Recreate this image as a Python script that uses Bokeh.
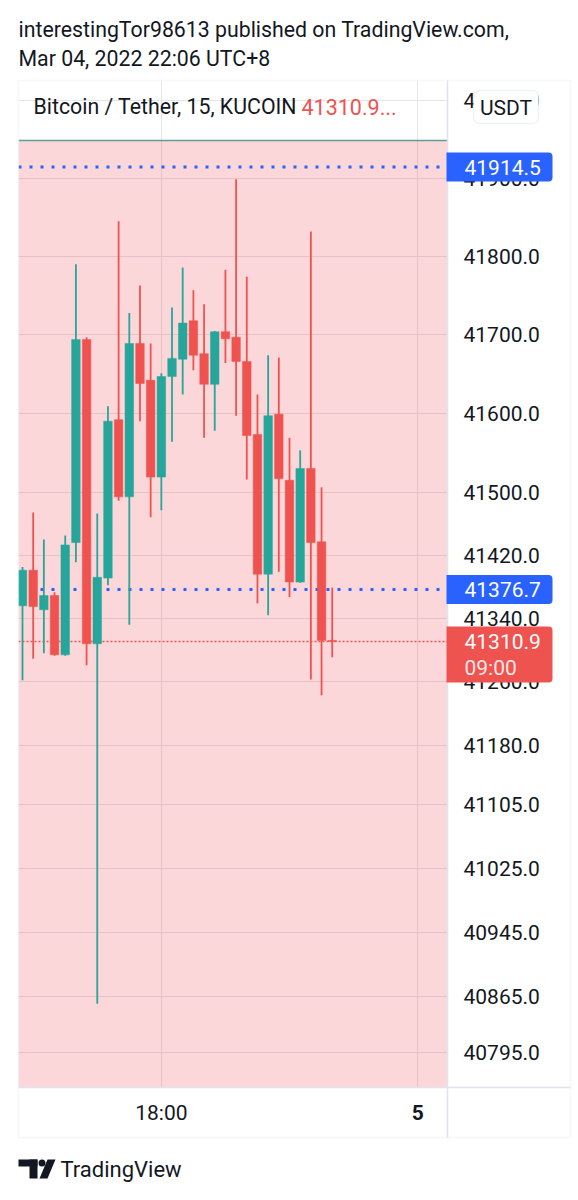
import numpy as np
from bokeh.plotting import figure
from bokeh.models import (Range1d, FixedTicker, PrintfTickFormatter, Label, BoxAnnotation,
                          PolyAnnotation, ColumnDataSource)
from bokeh.embed import file_html
from bokeh.resources import INLINE

# ---------------- data ----------------
bar_index = list(range(30))  # 15-minute bars; index 13 = 18:00, index 37 = 00:00 (day 5)
opens  = [41356, 41401, 41351, 41369, 41294, 41436, 41694, 41308, 41391, 41592,
          41494, 41689, 41642, 41519, 41647, 41669, 41718, 41676, 41637, 41704,
          41697, 41666, 41573, 41396, 41599, 41515, 41386, 41530, 41437, 41312.2]
closes = [41401, 41355, 41369, 41294, 41433, 41694, 41308, 41392, 41590, 41494,
          41689, 41638, 41519, 41647, 41670, 41715, 41674, 41637, 41704, 41695,
          41666, 41572, 41396, 41597, 41517, 41386, 41530, 41436, 41312, 41310.9]
highs  = [41405, 41474, 41440, 41373, 41445, 41790, 41697, 41473, 41609, 41845,
          41728, 41763, 41689, 41651, 41735, 41786, 41757, 41739, 41705, 41783,
          41899, 41774, 41624, 41674, 41671, 41569, 41553, 41832, 41506, 41379]
lows   = [41262, 41289, 41296, 41293, 41293, 41411, 41281, 40856, 41382, 41489,
          41332, 41590, 41468, 41477, 41564, 41624, 41655, 41569, 41578, 41664,
          41597, 41516, 41359, 41344, 41399, 41367, 41385, 41263, 41243, 41291]

price_ticks = [42000, 41900, 41800, 41700, 41600, 41500, 41420, 41340, 41260,
               41180, 41105, 41025, 40945, 40865, 40795]
time_ticks = [13, 37]
time_labels = ["18:00", "5"]
hline_levels = [41914.5, 41376.7]
hline_texts = ["41914.5", "41376.7"]
last_price = 41310.9
last_price_text = "41310.9"
countdown = "09:00"
zone_top = 41948.5

header_lines = ["interestingTor98613 published on TradingView.com,",
                "Mar 04, 2022 22:06 UTC+8"]
legend_text = "Bitcoin / Tether, 15, KUCOIN"
legend_price = "41310.9..."
currency = "USDT"
brand = "TradingView"

# ---------------- styling / layout ----------------
UP = "#26A69A"
DOWN = "#EF5350"
BLUE = "#2962FF"
TXT = "#131722"
LINE = "#E0E3EB"
FONT = "Roboto"
W, H = 578, 1200
PX_PER_E = 32708.0   # log price scale: pixels per e-fold


# page-pixel <-> data helpers (bar spacing 10.68 px)
def xd(X):
    return (X - 22) / 10.68


def yd(Y):
    return 41800 * np.exp((256 - Y) / PX_PER_E)


def ypage(price):
    return 256 - PX_PER_E * np.log(price / 41800)


def sx(X):
    return X


def sy(Y):
    return H - Y


def screen_box(l, r, t, b, **kw):
    return BoxAnnotation(left=sx(l), right=sx(r), top=sy(t), bottom=sy(b),
                         left_units="screen", right_units="screen",
                         top_units="screen", bottom_units="screen", **kw)


def text(X, Y, s, **kw):
    args = dict(text_font=FONT, text_font_size="21px", text_color=TXT,
                text_align="left", text_baseline="middle")
    args.update(kw)
    return Label(x=sx(X), y=sy(Y), x_units="screen", y_units="screen", text=s, **args)


PANE_L, PANE_R, PANE_T, PANE_B = 18, 447, 80, 1087   # candle pane (page px)
BOX_R, BOX_B = 570, 1137                             # outer chart box (page px)

colors = [UP if c >= o else DOWN for o, c in zip(opens, closes)]
src = ColumnDataSource(dict(
    x=bar_index, h=highs, l=lows,
    top=[max(o, c) for o, c in zip(opens, closes)],
    bottom=[min(o, c) for o, c in zip(opens, closes)],
    color=colors))

p = figure(width=W, height=H,
           x_range=Range1d(xd(0), xd(W)), y_range=Range1d(yd(H), yd(0)),
           y_axis_type="log", y_axis_location="right",
           output_backend="svg", toolbar_location=None,
           min_border_left=0, min_border_right=0, min_border_top=0, min_border_bottom=0)
p.background_fill_color = "white"
p.border_fill_color = "white"
p.outline_line_color = None

# grid
p.ygrid.ticker = FixedTicker(ticks=price_ticks)
p.xgrid.ticker = FixedTicker(ticks=time_ticks)
p.grid.grid_line_color = "#E4E4EA"
p.grid.grid_line_width = 1
p.grid.minor_grid_line_color = None

# price axis (pinned at the pane's right edge)
p.yaxis.fixed_location = xd(PANE_R)
p.yaxis.bounds = (yd(BOX_B), yd(PANE_T))
p.yaxis.ticker = FixedTicker(ticks=price_ticks)
p.yaxis.formatter = PrintfTickFormatter(format="%.1f")
p.yaxis.major_tick_line_color = None
p.yaxis.minor_tick_line_color = None
p.yaxis.major_label_standoff = 10
p.yaxis.axis_line_color = LINE
p.yaxis.axis_line_width = 1.5
p.yaxis.major_label_text_font = FONT
p.yaxis.major_label_text_font_size = "21px"
p.yaxis.major_label_text_color = TXT

# time axis (pinned at the pane's bottom edge)
p.xaxis.fixed_location = yd(PANE_B)
p.xaxis.bounds = (xd(PANE_L), xd(BOX_R))
p.xaxis.ticker = FixedTicker(ticks=[time_ticks[0]])
p.xaxis.major_label_overrides = {time_ticks[0]: time_labels[0]}
p.xaxis.major_tick_line_color = None
p.xaxis.minor_tick_line_color = None
p.xaxis.major_label_standoff = 7
p.xaxis.axis_line_color = LINE
p.xaxis.axis_line_width = 1.5
p.xaxis.major_label_text_font = FONT
p.xaxis.major_label_text_font_size = "21px"
p.xaxis.major_label_text_color = TXT

# pink zone drawing (to the pane's edges)
p.quad(left=[xd(PANE_L)], right=[xd(PANE_R)], top=[zone_top], bottom=[yd(PANE_B)],
       fill_color="#F23645", fill_alpha=0.2, line_color=None)
p.segment(x0=[xd(PANE_L)], x1=[xd(PANE_R)], y0=[zone_top], y1=[zone_top],
          line_color="#5E9E96", line_width=1.5)

# horizontal lines
for lvl in hline_levels:
    p.segment(x0=[xd(PANE_L)], x1=[xd(PANE_R)], y0=[lvl], y1=[lvl],
              line_color=BLUE, line_width=3, line_dash="3 8")
p.segment(x0=[xd(PANE_L)], x1=[xd(PANE_R)], y0=[last_price], y1=[last_price],
          line_color=DOWN, line_width=1.5, line_dash="2 2")

# candles
p.segment(x0="x", y0="h", x1="x", y1="l", line_color="color", line_width=1.8, source=src)
p.vbar(x="x", width=0.8, top="top", bottom="bottom", fill_color="color",
       line_color="color", line_width=0.5, source=src)

# white covers outside the pane (hide grid lines there)
cov = dict(fill_color="white", line_color=None)
p.quad(left=[xd(0), xd(0), xd(0), xd(PANE_R)],
       right=[xd(W), xd(W), xd(PANE_L), xd(W)],
       top=[yd(0), yd(PANE_B), yd(PANE_T), yd(PANE_T)],
       bottom=[yd(PANE_T), yd(H), yd(PANE_B), yd(PANE_B)], **cov)

# outer chart box
p.add_layout(screen_box(PANE_L, BOX_R, PANE_T, BOX_B, fill_alpha=0,
                        line_color=LINE, line_width=1.5))

# price tags on the axis
TAG_R = dict(top_left=0, top_right=4, bottom_right=4, bottom_left=0)
for lvl, t in zip(hline_levels, hline_texts):
    yc = ypage(lvl)
    p.add_layout(screen_box(446, 552, yc - 14.5, yc + 14.5, fill_color=BLUE, fill_alpha=1,
                            line_color=None, border_radius=TAG_R))
    p.add_layout(text(464, yc + 0.5, t, text_color="white"))

p.add_layout(screen_box(446, 552, 626, 682, fill_color=DOWN, fill_alpha=1,
                        line_color=None, border_radius=TAG_R))
p.add_layout(text(464, 641, last_price_text, text_color="white"))
p.add_layout(text(464, 667, countdown, text_color="white", text_alpha=0.88))

# bold day label on time axis
p.add_layout(Label(x=time_ticks[1], y=sy(1112), x_units="data", y_units="screen",
                   text=time_labels[1], text_font=FONT, text_font_size="21px",
                   text_font_style="bold", text_color=TXT,
                   text_align="center", text_baseline="middle"))

# header
for i, line in enumerate(header_lines):
    p.add_layout(text(18, 29 + 29 * i, line, text_font_size="21.3px"))

# legend
p.add_layout(text(33, 106, legend_text, text_font_size="21.3px"))
p.add_layout(text(301, 106, legend_price, text_font_size="21.5px", text_color=DOWN))

# currency button
p.add_layout(screen_box(473, 538, 90, 123, fill_color="white", fill_alpha=1,
                        line_color="#D1D4DC", line_width=1.5, border_radius=6))
p.add_layout(text(505.5, 107, currency, text_align="center"))

# brand footer
LOGO = "#131722"
for (l, r, t, b) in [(18, 37, 1159, 1166), (29, 37, 1159, 1178)]:
    p.add_layout(screen_box(l, r, t, b, fill_color=LOGO, fill_alpha=1, line_color=None))
p.add_layout(screen_box(38, 45, 1159, 1166, fill_color=LOGO, fill_alpha=1,
                        line_color=None, border_radius=4))
p.add_layout(PolyAnnotation(xs=[sx(47), sx(55), sx(47), sx(39)],
                            ys=[sy(1159), sy(1159), sy(1178), sy(1178)],
                            xs_units="screen", ys_units="screen",
                            fill_color=LOGO, fill_alpha=1, line_color=None))
p.add_layout(text(60, 1169, brand, text_font_size="22px"))

open("out.html", "w").write(file_html(p, INLINE))
